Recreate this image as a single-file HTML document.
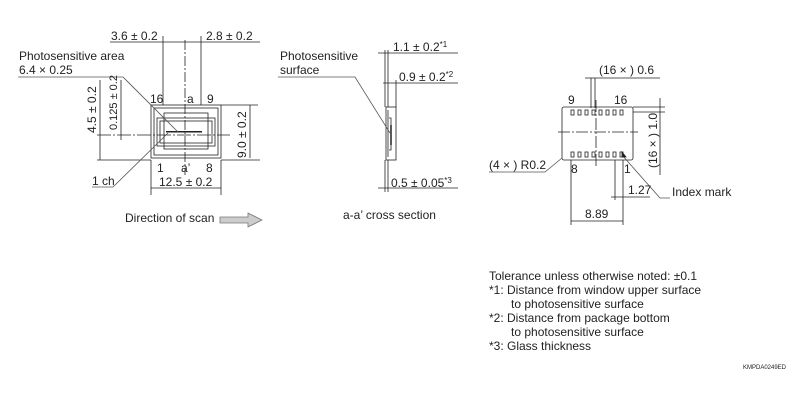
<!DOCTYPE html>
<html><head><meta charset="utf-8"><style>
body{margin:0;background:#fff}
svg{display:block}
text{font-family:"Liberation Sans","DejaVu Sans",sans-serif;font-size:12px;fill:#222;stroke:none}
.s{font-size:11px}
</style></head><body>
<svg width="804" height="400" viewBox="0 0 804 400" stroke="#222" stroke-width="0.8" fill="none">
<!-- LEFT VIEW -->
<g>
<line x1="110" y1="42" x2="163" y2="42"/><line x1="201" y1="42" x2="260" y2="42"/>
<line x1="163" y1="42" x2="201" y2="42"/>
<line x1="163" y1="36" x2="163" y2="105"/><line x1="201" y1="36" x2="201" y2="105"/>
<line x1="185" y1="40" x2="185" y2="175" stroke-dasharray="10,2,2,2"/>
<rect x="151" y="105" width="70" height="53"/>
<rect x="154" y="108" width="64" height="47"/>
<rect x="157" y="118" width="58" height="28"/>
<rect x="160" y="121" width="52" height="22"/>
<rect x="164" y="113" width="44" height="36"/>
<rect x="166" y="131" width="36" height="1.5" fill="#222" stroke="none"/>
<line x1="97" y1="135" x2="230" y2="135" stroke-dasharray="14,2,2,2"/>
<line x1="97" y1="160" x2="151" y2="160"/><line x1="221" y1="160" x2="260" y2="160"/>
<line x1="221" y1="105" x2="258" y2="105"/>
<line x1="100" y1="80" x2="100" y2="160"/>
<line x1="121" y1="80" x2="121" y2="140"/>
<line x1="250" y1="105" x2="250" y2="158"/>
<line x1="151" y1="160" x2="151" y2="195"/><line x1="221" y1="160" x2="221" y2="195"/>
<line x1="151" y1="188" x2="221" y2="188"/>
<polyline points="18,77 123,77 178,132" stroke="#555"/>
<polyline points="92,187 113,187 168,133" stroke="#555"/>
<text x="111" y="40">3.6 ± 0.2</text>
<text x="206" y="40">2.8 ± 0.2</text>
<text x="19" y="60">Photosensitive area</text>
<text x="19" y="74">6.4 × 0.25</text>
<text x="150" y="103">16</text><text x="187" y="103">a</text><text x="207" y="103">9</text>
<text x="157" y="172">1</text><text x="181" y="172">a’</text><text x="206" y="172">8</text>
<text x="92" y="185">1 ch</text>
<text x="159" y="186">12.5 ± 0.2</text>
<text transform="translate(96,133) rotate(-90)">4.5 ± 0.2</text>
<text class="s" transform="translate(117,130) rotate(-90)">0.125 ± 0.2</text>
<text transform="translate(246,158) rotate(-90)">9.0 ± 0.2</text>
<text x="125" y="222">Direction of scan</text>
<polygon points="220,217 248,217 248,213 262,220 248,227 248,223 220,223" fill="#ccc" stroke="#777"/>
</g>
<!-- CROSS SECTION -->
<g>
<line x1="378" y1="53" x2="458" y2="53"/>
<line x1="383" y1="83" x2="458" y2="83"/>
<line x1="378" y1="188" x2="458" y2="188"/>
<line x1="385" y1="50" x2="385" y2="107"/><line x1="388" y1="50" x2="388" y2="107"/>
<line x1="396" y1="80" x2="396" y2="107"/>
<line x1="385" y1="160" x2="385" y2="192"/><line x1="388" y1="160" x2="388" y2="192"/>
<rect x="386" y="107" width="10" height="53"/>
<polyline points="388,110 388,157"/>
<polyline points="389,118 391,118 391,150 389,150"/>
<line x1="391" y1="125" x2="391" y2="145" stroke-width="1.5"/>
<polyline points="278,77 355,77 390,133" stroke="#555"/>
<text x="280" y="60">Photosensitive</text><text x="280" y="74">surface</text>
<text x="393" y="51">1.1 ± 0.2<tspan dy="-4" font-size="8">*1</tspan></text>
<text x="399" y="81">0.9 ± 0.2<tspan dy="-4" font-size="8">*2</tspan></text>
<text x="391" y="187">0.5 ± 0.05<tspan dy="-4" font-size="8">*3</tspan></text>
<text x="343" y="219">a-a’ cross section</text>
</g>
<!-- RIGHT VIEW -->
<g>
<rect x="562" y="107" width="71" height="53" rx="2"/>
<line x1="558" y1="132" x2="638" y2="132" stroke-dasharray="12,2,2,2"/>
<line x1="596" y1="100" x2="596" y2="168" stroke-dasharray="12,2,2,2"/>
<g>
<rect x="571" y="110" width="3" height="5"/><rect x="578" y="110" width="3" height="5"/><rect x="585" y="110" width="3" height="5"/><rect x="592" y="110" width="3" height="5"/><rect x="599" y="110" width="3" height="5"/><rect x="606" y="110" width="3" height="5"/><rect x="613" y="110" width="3" height="5"/><rect x="620" y="110" width="3" height="5"/>
<rect x="571" y="152" width="3" height="5"/><rect x="578" y="152" width="3" height="5"/><rect x="585" y="152" width="3" height="5"/><rect x="592" y="152" width="3" height="5"/><rect x="599" y="152" width="3" height="5"/><rect x="606" y="152" width="3" height="5"/><rect x="613" y="152" width="3" height="5"/><rect x="620" y="152" width="3" height="5"/>
</g>
<line x1="591" y1="78" x2="591" y2="108"/><line x1="595" y1="78" x2="595" y2="108"/>
<line x1="585" y1="78" x2="660" y2="78"/>
<line x1="633" y1="107" x2="665" y2="107"/><line x1="633" y1="112" x2="665" y2="112"/>
<line x1="660" y1="98" x2="660" y2="175"/>
<line x1="571" y1="160" x2="571" y2="225"/><line x1="623" y1="160" x2="623" y2="225"/>
<line x1="615" y1="160" x2="615" y2="200"/>
<line x1="571" y1="221" x2="623" y2="221"/>
<line x1="611" y1="197" x2="650" y2="197"/>
<polyline points="489,172 545,172 562,158" stroke="#555"/>
<polyline points="670,198 660,198 622,155" stroke="#555"/>
<polygon points="622,152 626,157 622,157" fill="#222"/>
<text x="599" y="74">(16 × ) 0.6</text>
<text x="568" y="104">9</text><text x="614" y="104">16</text>
<text x="571" y="173">8</text><text x="624" y="173">1</text>
<text x="489" y="169">(4 × ) R0.2</text>
<text transform="translate(657,168) rotate(-90)">(16 × ) 1.0</text>
<text x="628" y="194">1.27</text>
<text x="585" y="218">8.89</text>
<text x="672" y="196">Index mark</text>
</g>
<!-- NOTES -->
<g>
<text x="489" y="280">Tolerance unless otherwise noted: ±0.1</text>
<text x="489" y="294">*1: Distance from window upper surface</text>
<text x="511" y="308">to photosensitive surface</text>
<text x="489" y="322">*2: Distance from package bottom</text>
<text x="511" y="336">to photosensitive surface</text>
<text x="489" y="350">*3: Glass thickness</text>
<text x="743" y="369" style="font-size:6px">KMPDA0249ED</text>
</g>
</svg>
</body></html>
